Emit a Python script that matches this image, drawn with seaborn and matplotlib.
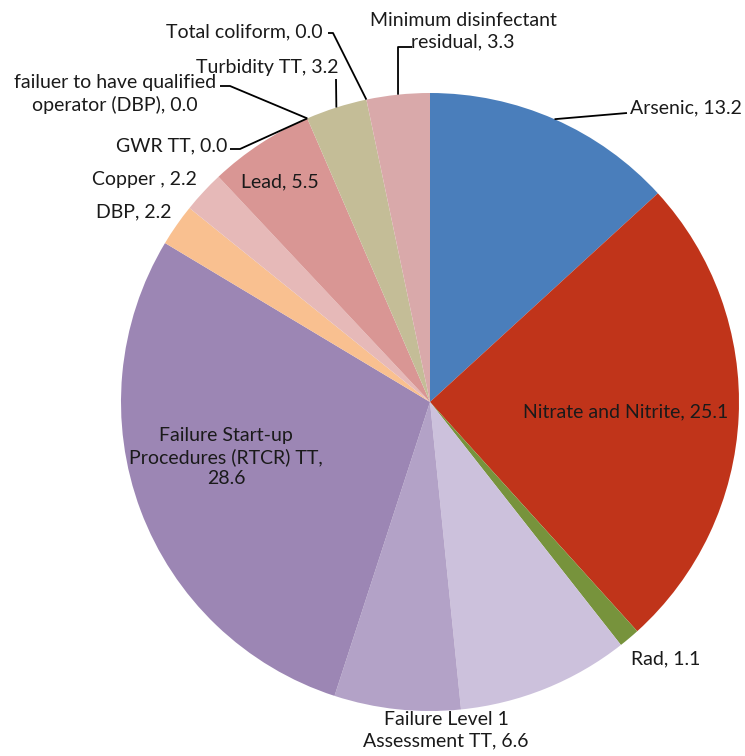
import numpy as np
import matplotlib
matplotlib.use('Agg')
import matplotlib.pyplot as plt
import seaborn as sns

# dados (porcentagem por tipo de violacao), sentido horario a partir do topo
categorias = ['Arsenic', 'Nitrate and Nitrite', 'Rad', '', 'Failure Level 1\nAssessment TT',
              'Failure Start-up\nProcedures (RTCR) TT,', 'DBP', 'Copper ', 'Lead', 'GWR TT',
              'failuer to have qualified\noperator (DBP)', 'Turbidity TT', 'Total coliform',
              'Minimum disinfectant\nresidual']
valores = [13.2, 25.1, 1.1, 9.0, 6.6, 28.6, 2.2, 2.2, 5.5, 0.0, 0.0, 3.2, 0.0, 3.3]
cores = ['#4A7EBB', '#C0341A', '#77933C', '#CCC1DC', '#B3A2C7', '#9C86B4', '#F9C090',
         '#E6B9B8', '#D99694', '#A6A6A6', '#8EB4E3', '#C4BD97', '#FFFFFF', '#D9A9AA']

sns.set_style('white')
plt.rcParams['font.family'] = ['Lato', 'DejaVu Sans']

W, H = 745, 756
fig = plt.figure(figsize=(W / 100, H / 100), dpi=100)
ax = fig.add_axes([0, 0, 1, 1])

cx, cy, r = 430, H - 402, 309
wedges, _ = ax.pie(valores, colors=cores, startangle=90, counterclock=False,
                   center=(cx, cy), radius=r, wedgeprops=dict(linewidth=0),
                   frame=True)
ax.set_xlim(0, W)
ax.set_ylim(0, H)
ax.set_aspect('equal')
ax.axis('off')


def rotulo(i):
    nome = categorias[i]
    return f'{nome}, {valores[i]:.1f}' if not nome.endswith(',') else f'{nome}\n{valores[i]:.1f}'


def borda(i):
    w = wedges[i]
    ang = np.deg2rad((w.theta1 + w.theta2) / 2)
    return cx + r * np.cos(ang), cy + r * np.sin(ang)


fs = 14
ls = 1.3
# (indice, x, y em pixels da imagem, alinhamento)
posicoes = [
    (0, 630, 108, 'left'),
    (1, 626, 412, 'center'),
    (2, 631, 659, 'left'),
    (4, 446, 730, 'center'),
    (5, 226, 457, 'center'),
    (6, 171, 212, 'right'),
    (7, 197, 180, 'right'),
    (8, 280, 182, 'center'),
    (9, 227, 146, 'right'),
    (10, 115, 94, 'center'),
    (11, 267, 67, 'center'),
    (12, 323, 32, 'right'),
    (13, 463, 31, 'center'),
]
for i, x, y, ha in posicoes:
    ax.text(x, H - y, rotulo(i), ha=ha, va='center', fontsize=fs,
            linespacing=ls, color='#1a1a1a', multialignment='center')

# linhas de chamada: ponto na borda da fatia -> cotovelos
chamadas = {
    0: [(627, 113)],
    9: [(240, 149), (230, 149)],
    10: [(230, 86), (220, 86)],
    11: [(336, 79)],
    12: [(333, 33), (328, 33)],
    13: [(398, 47), (412, 47)],
}
for i, pts in chamadas.items():
    x0, y0 = borda(i)
    xs = [x0] + [p[0] for p in pts]
    ys = [y0] + [H - p[1] for p in pts]
    ax.plot(xs, ys, color='black', lw=1.3, solid_capstyle='butt')

plt.savefig('out.png', dpi=100)
